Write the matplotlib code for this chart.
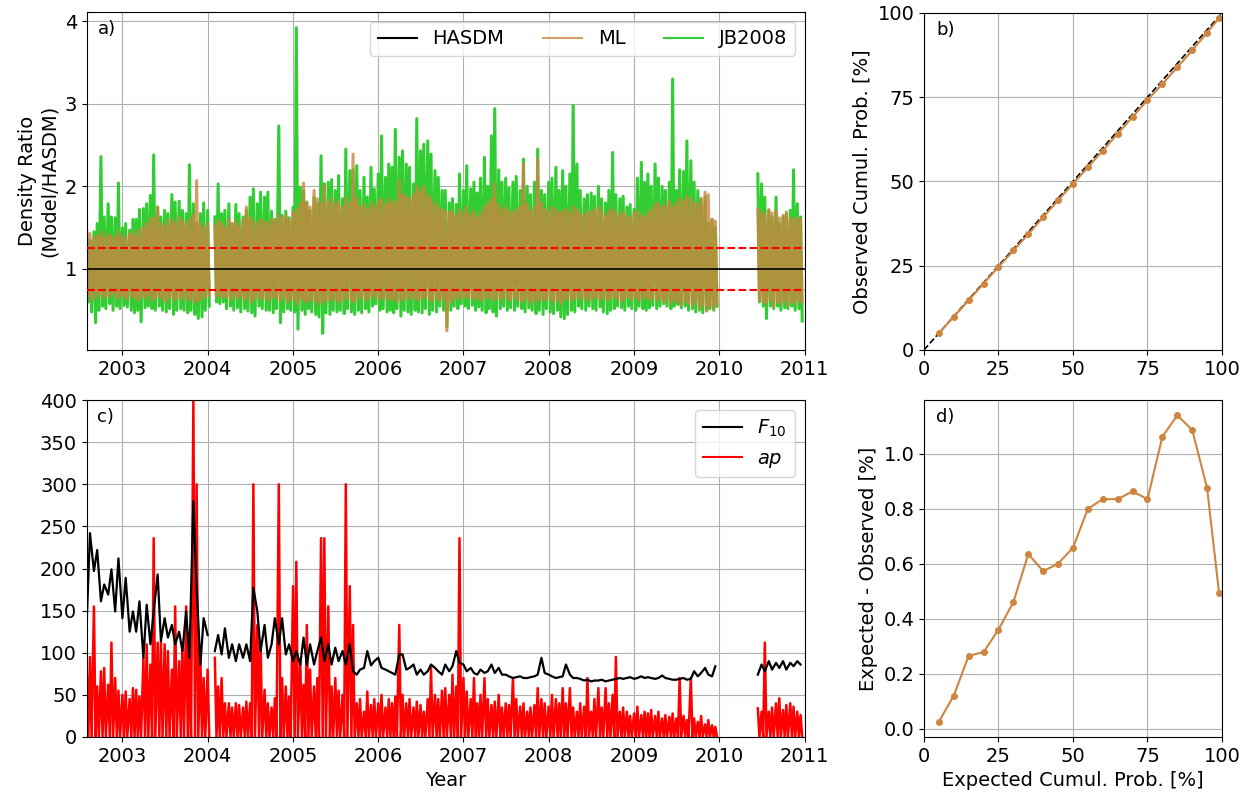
import numpy as np
import pandas as pd
import matplotlib
matplotlib.use("Agg")
import matplotlib.pyplot as plt
import matplotlib.dates as mdates

N = None  # no data

# half-monthly samples (1st / 15th), Aug 2002 - Dec 2010, one row per year
# JB2008 / HASDM ratio: upper and lower envelope in each half month
jb_hi = [1.47, 1.35, 1.45, 1.55, 2.36, 1.63, 1.79, 1.63, 1.62, 2.04,
         1.50, 1.55, 1.47, 1.60, 1.60, 1.72, 1.73, 1.79, 1.89, 2.38, 1.75, 1.63, 1.71, 1.67, 1.90, 1.81, 1.82, 1.71, 1.67, 2.26, 1.79, 1.55, 1.67, 1.80,
         1.71, N, 1.63, 2.03, 1.67, 1.71, 1.79, 1.55, 1.78, 1.67, 1.63, 1.71, 1.87, 1.97, 1.79, 1.93, 1.87, 1.93, 1.70, 1.60, 2.73, 1.65, 1.70, 1.62,
         1.75, 3.92, 1.99, 1.95, 1.81, 1.71, 1.87, 1.79, 2.37, 2.03, 2.05, 2.08, 1.95, 2.13, 1.85, 2.45, 2.19, 2.20, 2.25, 1.95, 2.11, 1.87, 2.23, 1.97,
         2.15, 2.61, 2.11, 2.27, 2.23, 2.69, 2.35, 2.43, 2.27, 2.23, 2.03, 2.82, 2.43, 2.51, 2.55, 2.39, 2.19, 2.11, 1.95, 1.95, 1.80, 1.85, 1.78, 2.15,
         1.95, 2.25, 1.97, 2.05, 1.92, 2.10, 2.35, 2.00, 2.61, 2.94, 2.20, 2.05, 2.10, 1.98, 2.05, 2.12, 1.95, 2.33, 2.00, 1.90, 2.05, 2.45, 1.95, 1.90,
         2.05, 2.10, 2.23, 1.95, 2.19, 2.00, 2.15, 2.98, 2.27, 1.95, 1.85, 1.90, 1.92, 1.88, 2.00, 1.85, 1.80, 1.95, 2.41, 1.90, 1.85, 1.88, 1.75, 1.78,
         1.72, 2.10, 2.29, 2.05, 2.15, 2.00, 2.27, 2.10, 2.00, 1.95, 2.05, 3.30, 1.95, 2.20, 2.18, 2.55, 2.31, 2.05, 1.95, 1.85, 1.88, 1.55, 1.60, 1.50,
         N, N, N, N, N, N, N, N, N, N, N, 2.15, 2.03, 1.87, 1.71, 1.63, 1.87, 1.55, 1.63, 1.67, 1.71, 2.20, 1.79, 1.63]
jb_lo = [0.60, 0.48, 0.35, 0.50, 0.55, 0.52, 0.58, 0.50, 0.55, 0.52,
         0.56, 0.54, 0.50, 0.47, 0.50, 0.36, 0.53, 0.55, 0.52, 0.50, 0.55, 0.50, 0.48, 0.52, 0.45, 0.50, 0.52, 0.50, 0.47, 0.50, 0.45, 0.40, 0.42, 0.50,
         0.55, N, 0.60, 0.58, 0.60, 0.52, 0.55, 0.50, 0.53, 0.48, 0.52, 0.49, 0.47, 0.43, 0.55, 0.52, 0.50, 0.50, 0.47, 0.52, 0.35, 0.48, 0.52, 0.50,
         0.48, 0.27, 0.50, 0.45, 0.52, 0.48, 0.45, 0.42, 0.22, 0.47, 0.45, 0.50, 0.48, 0.50, 0.46, 0.52, 0.48, 0.45, 0.50, 0.47, 0.52, 0.48, 0.55, 0.58,
         0.50, 0.52, 0.48, 0.50, 0.47, 0.52, 0.43, 0.50, 0.48, 0.45, 0.50, 0.48, 0.47, 0.52, 0.45, 0.50, 0.48, 0.55, 0.50, 0.30, 0.50, 0.55, 0.52, 0.58,
         0.55, 0.52, 0.56, 0.50, 0.54, 0.50, 0.47, 0.52, 0.48, 0.43, 0.52, 0.55, 0.50, 0.53, 0.50, 0.55, 0.52, 0.48, 0.53, 0.50, 0.46, 0.50, 0.45, 0.52,
         0.48, 0.46, 0.50, 0.42, 0.40, 0.45, 0.50, 0.48, 0.55, 0.52, 0.50, 0.55, 0.52, 0.50, 0.54, 0.48, 0.46, 0.50, 0.52, 0.55, 0.53, 0.50, 0.55, 0.52,
         0.50, 0.55, 0.52, 0.50, 0.53, 0.56, 0.52, 0.55, 0.58, 0.55, 0.52, 0.55, 0.57, 0.53, 0.55, 0.50, 0.52, 0.48, 0.50, 0.47, 0.50, 0.52, 0.50, 0.55,
         N, N, N, N, N, N, N, N, N, N, N, 0.60, 0.55, 0.40, 0.55, 0.52, 0.55, 0.50, 0.53, 0.52, 0.55, 0.50, 0.52, 0.37]

# ML / HASDM ratio
ml_hi = [1.42, 1.43, 1.38, 1.40, 1.45, 1.38, 1.42, 1.40, 1.38, 1.45,
         1.40, 1.38, 1.42, 1.45, 1.40, 1.48, 1.50, 1.55, 1.60, 1.62, 1.75, 1.55, 1.52, 1.58, 1.60, 1.55, 1.62, 1.58, 1.55, 1.60, 1.65, 2.07, 1.55, 1.50,
         1.55, N, 1.52, 1.58, 1.55, 1.50, 1.60, 1.55, 1.58, 1.52, 1.60, 1.75, 1.62, 1.58, 1.55, 1.60, 1.58, 1.55, 1.60, 1.59, 1.65, 1.62, 1.65, 1.60,
         1.68, 1.72, 1.80, 2.04, 1.80, 1.75, 1.95, 1.85, 1.80, 2.01, 1.80, 1.85, 1.78, 1.82, 1.75, 1.85, 1.80, 2.39, 1.85, 1.75, 1.78, 1.72, 1.80, 1.75,
         1.82, 1.85, 1.78, 1.85, 1.80, 1.82, 2.07, 1.90, 1.88, 1.85, 1.90, 2.00, 1.95, 2.00, 1.90, 1.85, 1.80, 1.75, 1.72, 1.70, 1.68, 1.70, 1.65, 1.72,
         1.68, 1.75, 1.65, 1.70, 1.62, 1.68, 1.75, 1.80, 1.85, 2.03, 1.78, 1.72, 1.75, 1.70, 1.68, 1.72, 1.75, 2.27, 1.78, 1.70, 1.75, 2.33, 1.80, 1.72,
         1.70, 1.75, 1.72, 1.68, 1.70, 1.72, 1.68, 1.75, 1.72, 1.68, 1.65, 1.70, 1.68, 1.72, 1.75, 1.70, 1.65, 1.70, 1.72, 1.68, 1.65, 1.70, 1.65, 1.62,
         1.68, 1.70, 1.65, 1.62, 1.68, 1.72, 1.78, 1.80, 1.75, 1.78, 1.82, 1.75, 1.80, 1.85, 1.82, 1.88, 1.85, 1.80, 1.78, 1.85, 1.93, 1.90, 1.60, 1.58,
         N, N, N, N, N, N, N, N, N, N, N, 1.72, 1.70, 1.65, 1.72, 1.68, 1.70, 1.62, 1.65, 1.69, 1.62, 1.60, 1.62, 1.60]
ml_lo = [0.68, 0.62, 0.66, 0.70, 0.64, 0.68, 0.66, 0.70, 0.64, 0.67,
         0.66, 0.63, 0.68, 0.65, 0.62, 0.66, 0.64, 0.68, 0.62, 0.65, 0.67, 0.63, 0.60, 0.66, 0.62, 0.65, 0.63, 0.66, 0.62, 0.64, 0.60, 0.62, 0.64, 0.66,
         0.68, N, 0.66, 0.68, 0.65, 0.67, 0.63, 0.66, 0.64, 0.67, 0.62, 0.65, 0.60, 0.64, 0.66, 0.63, 0.65, 0.62, 0.66, 0.64, 0.62, 0.65, 0.60, 0.63,
         0.62, 0.58, 0.64, 0.60, 0.63, 0.61, 0.62, 0.58, 0.60, 0.63, 0.61, 0.64, 0.62, 0.60, 0.63, 0.65, 0.62, 0.60, 0.64, 0.66, 0.62, 0.64, 0.68, 0.65,
         0.63, 0.66, 0.62, 0.65, 0.63, 0.60, 0.64, 0.62, 0.66, 0.63, 0.65, 0.62, 0.64, 0.66, 0.63, 0.61, 0.65, 0.62, 0.64, 0.25, 0.60, 0.63, 0.66, 0.64,
         0.67, 0.64, 0.66, 0.63, 0.65, 0.62, 0.64, 0.66, 0.62, 0.65, 0.63, 0.66, 0.64, 0.62, 0.65, 0.63, 0.60, 0.64, 0.62, 0.58, 0.63, 0.61, 0.64, 0.62,
         0.64, 0.60, 0.63, 0.58, 0.62, 0.65, 0.62, 0.64, 0.66, 0.63, 0.65, 0.62, 0.64, 0.66, 0.63, 0.65, 0.62, 0.64, 0.66, 0.63, 0.61, 0.64, 0.66, 0.63,
         0.65, 0.62, 0.64, 0.66, 0.63, 0.65, 0.62, 0.64, 0.60, 0.63, 0.58, 0.62, 0.60, 0.56, 0.61, 0.58, 0.55, 0.60, 0.52, 0.57, 0.49, 0.55, 0.52, 0.58,
         N, N, N, N, N, N, N, N, N, N, N, 0.62, 0.60, 0.58, 0.62, 0.55, 0.60, 0.58, 0.62, 0.56, 0.60, 0.58, 0.62, 0.60]

# solar flux F10.7 and geomagnetic ap
f10 = [135, 242, 197, 222, 161, 181, 169, 199, 149, 212,
       141, 189, 125, 149, 125, 161, 94, 157, 110, 149, 193, 114, 141, 118, 133, 110, 125, 102, 149, 94, 280, 177, 86, 141,
       121, N, 102, 121, 98, 129, 94, 110, 90, 110, 94, 110, 90, 177, 149, 102, 133, 94, 110, 141, 110, 141, 98, 110,
       90, 102, 86, 118, 86, 110, 86, 102, 118, 90, 110, 86, 106, 90, 102, 86, 110, 78, 74, 80, 82, 102, 85, 90,
       94, 82, 80, 78, 76, 74, 98, 98, 80, 82, 86, 74, 80, 74, 78, 86, 82, 78, 74, 86, 78, 84, 102, 88,
       86, 78, 82, 76, 74, 80, 76, 78, 86, 76, 82, 74, 74, 72, 70, 71, 72, 70, 70, 71, 72, 74, 94, 76,
       74, 72, 70, 71, 72, 86, 74, 70, 70, 69, 67, 68, 66, 67, 67, 68, 66, 67, 68, 69, 70, 69, 70, 71,
       69, 70, 72, 70, 71, 70, 69, 70, 73, 70, 69, 68, 68, 69, 70, 68, 69, 78, 72, 76, 82, 74, 72, 84,
       N, N, N, N, N, N, N, N, N, N, N, 74, 86, 78, 90, 80, 88, 82, 90, 80, 88, 84, 90, 86]
ap = [82, 95, 155, 60, 78, 82, 62, 112, 70, 55,
      50, 54, 45, 58, 56, 48, 94, 110, 86, 236, 112, 114, 110, 102, 80, 155, 90, 110, 155, 100, 400, 300, 94, 70,
      80, N, 94, 60, 70, 40, 40, 35, 40, 38, 35, 42, 40, 300, 133, 110, 56, 40, 35, 46, 300, 70, 60, 48,
      179, 208, 90, 62, 133, 80, 60, 70, 236, 236, 155, 60, 70, 55, 50, 300, 179, 133, 40, 45, 30, 54, 38, 45,
      40, 50, 35, 45, 40, 48, 133, 50, 40, 45, 35, 42, 38, 30, 45, 82, 50, 45, 55, 58, 50, 74, 60, 236,
      70, 54, 45, 70, 40, 50, 70, 45, 38, 42, 50, 35, 40, 38, 70, 45, 36, 40, 30, 35, 38, 58, 45, 40,
      36, 50, 45, 40, 58, 40, 58, 35, 30, 40, 36, 70, 30, 45, 58, 35, 58, 40, 50, 95, 30, 35, 30, 25,
      28, 36, 26, 30, 28, 32, 25, 30, 22, 26, 24, 28, 22, 70, 25, 20, 70, 22, 18, 25, 15, 20, 14, 12,
      N, N, N, N, N, N, N, N, N, N, N, 34, 30, 112, 30, 35, 40, 46, 32, 38, 40, 36, 30, 26]
ap_quiet = 0  # quiet-day level between storms

# calibration (PIT) curve
expected = [5, 10, 15, 20, 25, 30, 35, 40, 45, 50, 55, 60, 65, 70, 75, 80, 85, 90, 95, 99]
exp_minus_obs = [0.025, 0.12, 0.265, 0.278, 0.36, 0.46, 0.635, 0.573, 0.60, 0.658,
                 0.80, 0.835, 0.835, 0.863, 0.835, 1.062, 1.14, 1.087, 0.876, 0.495]
observed = [e - d for e, d in zip(expected, exp_minus_obs)]

dates = pd.date_range("2002-08-01", "2010-12-31", freq="SMS")


def zigzag(hi, lo):
    # alternate each half month between its high and its low value
    x = np.empty(2 * len(dates), dtype="datetime64[ns]")
    x[0::2] = dates.values
    x[1::2] = (dates + pd.Timedelta(days=7)).values
    y = np.empty(2 * len(dates))
    y[0::2] = np.array(hi, dtype=float)
    y[1::2] = np.array(lo, dtype=float)
    y[1::2][np.isnan(y[0::2])] = np.nan
    return x, y


FS = 14
plt.rcParams["font.size"] = FS
ML_C = "peru"
JB_C = "limegreen"

fig = plt.figure(figsize=(12.51, 7.97), dpi=100)
ax_a = fig.add_axes([0.0693, 0.5609, 0.5738, 0.4241])
ax_b = fig.add_axes([0.7386, 0.5609, 0.2382, 0.4228])
ax_c = fig.add_axes([0.0693, 0.0753, 0.5738, 0.4228])
ax_d = fig.add_axes([0.7386, 0.0753, 0.2382, 0.4228])

xlim = (pd.Timestamp("2002-08-01"), pd.Timestamp("2011-01-01"))

# a) density ratios
x, y = zigzag(jb_hi, jb_lo)
ax_a.plot(x, y, color=JB_C, lw=2.2, label="JB2008")
x, y = zigzag(ml_hi, ml_lo)
ax_a.plot(x, y, color=ML_C, lw=2.2, alpha=0.8, label="ML")
ax_a.axhline(1.0, color="k", lw=1.2, label="HASDM", zorder=4)
ax_a.axhline(1.25, color="red", ls="--", lw=1.5, zorder=4)
ax_a.axhline(0.75, color="red", ls="--", lw=1.5, zorder=4)
h, l = ax_a.get_legend_handles_labels()
order = [l.index("HASDM"), l.index("ML"), l.index("JB2008")]
leg = ax_a.legend([h[i] for i in order], [l[i] for i in order], ncol=3, loc="upper right", fontsize=FS)
for line in leg.get_lines():
    line.set_linewidth(1.5)
ax_a.set_ylabel("Density Ratio\n(Model/HASDM)")
ax_a.set_ylim(0.02, 4.11)
ax_a.set_yticks([1, 2, 3, 4])
ax_a.text(0.015, 0.975, "a)", transform=ax_a.transAxes, va="top", fontsize=13)

# c) drivers
ax_c.plot(dates, np.array(f10, dtype=float), color="k", lw=1.6, label=r"$F_{10}$", zorder=3)
x, y = zigzag(ap, [ap_quiet] * len(ap))
ax_c.plot(x, y, color="red", lw=1.8, label=r"$ap$")
ax_c.set_ylim(0, 400)
ax_c.set_yticks(range(0, 401, 50))
ax_c.set_xlabel("Year")
leg = ax_c.legend(loc="upper right", fontsize=FS)
for line in leg.get_lines():
    line.set_linewidth(1.5)
ax_c.text(0.015, 0.975, "c)", transform=ax_c.transAxes, va="top", fontsize=13)

for ax in (ax_a, ax_c):
    ax.set_xlim(*xlim)
    ax.xaxis.set_major_locator(mdates.YearLocator())
    ax.xaxis.set_major_formatter(mdates.DateFormatter("%Y"))
    ax.grid(True)

# b) calibration
ax_b.plot([0, 100], [0, 100], "k--", lw=1.2)
ax_b.plot(expected, observed, color=ML_C, marker="o", ms=4, lw=1.5)
ax_b.set_xlim(0, 100)
ax_b.set_ylim(0, 100)
ax_b.set_xticks([0, 25, 50, 75, 100])
ax_b.set_yticks([0, 25, 50, 75, 100])
ax_b.set_ylabel("Observed Cumul. Prob. [%]")
ax_b.grid(True)
ax_b.text(0.04, 0.975, "b)", transform=ax_b.transAxes, va="top", fontsize=13)

# d) calibration error
ax_d.plot(expected, exp_minus_obs, color=ML_C, marker="o", ms=4, lw=1.5)
ax_d.set_xlim(0, 100)
ax_d.set_xticks([0, 25, 50, 75, 100])
ax_d.set_xlabel("Expected Cumul. Prob. [%]")
ax_d.set_ylabel("Expected - Observed [%]")
ax_d.grid(True)
ax_d.text(0.04, 0.975, "d)", transform=ax_d.transAxes, va="top", fontsize=13)

fig.savefig("out.png", dpi=100)
